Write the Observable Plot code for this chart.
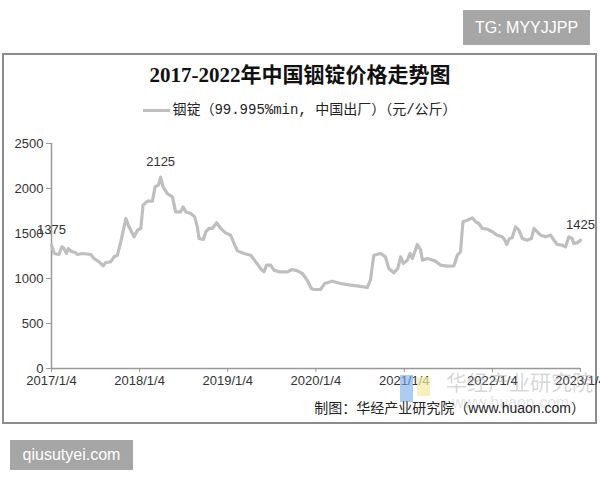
<!DOCTYPE html>
<html><head><meta charset="utf-8">
<script src="https://cdn.jsdelivr.net/npm/d3@7"></script>
<script src="https://cdn.jsdelivr.net/npm/@observablehq/plot@0.6"></script>
<style>
body{margin:0;background:#fff;}
#wrap{position:relative;width:600px;height:480px;overflow:hidden;background:#fff;font-family:"Liberation Sans","Noto Sans CJK SC",sans-serif;}
#frame{position:absolute;left:2px;top:53px;width:591px;height:367px;border:2px solid #8c8c8c;}
#title{position:absolute;left:0;top:61px;width:600px;text-align:center;font-family:"Liberation Serif","Noto Sans CJK SC",serif;font-weight:bold;font-size:21px;line-height:28px;color:#111;}
#legend{position:absolute;left:0;top:100px;width:600px;display:flex;justify-content:center;align-items:center;font-family:"Liberation Mono","Noto Sans CJK SC",monospace;font-size:14px;line-height:20px;color:#222;}
#legend .sw{display:inline-block;width:27px;height:3px;background:#bfbfbf;margin-right:2px;}
#chart{position:absolute;left:0;top:0;}
#caption{position:absolute;right:15px;top:399px;font-size:14px;line-height:18px;color:#222;white-space:nowrap;}
.wm{position:absolute;white-space:nowrap;color:rgba(150,150,150,0.38);}
.badge{position:absolute;background:#a6a6a6;color:#fff;font-size:16px;display:flex;align-items:center;justify-content:center;}
</style></head><body>
<div id="wrap">
  <div id="frame"></div>
  <div id="chart"></div>
  <div id="title"></div>
  <div id="legend"><span class="sw"></span><span id="legtext"></span></div>
  <div class="wm" style="left:400px;top:375px;width:13px;height:27px;background:rgba(120,170,235,0.6);color:transparent"></div>
  <div class="wm" style="left:417px;top:377px;width:13px;height:19px;background:rgba(245,235,160,0.7);color:transparent"></div>
  <div class="wm" id="wm1" style="left:446px;top:371px;font-size:21px;line-height:24px;"></div>
  <div class="wm" id="wm2" style="left:452px;top:394px;font-size:16px;line-height:18px;color:rgba(160,160,160,0.3)"></div>
  <div id="caption"></div>
  <div class="badge" id="b1" style="left:463px;top:10px;width:127px;height:35px;"></div>
  <div class="badge" id="b2" style="left:10px;top:440px;width:123px;height:30px;"></div>
</div>
<script>
const titleText = "2017-2022年中国铟锭价格走势图";
const legendText = "铟锭（99.995%min, 中国出厂）（元/公斤）";
const captionText = "制图：华经产业研究院（www.huaon.com）";
const watermarkName = "华经产业研究院";
const watermarkUrl = "www.huaon.com";
const badgeTop = "TG: MYYJJPP";
const badgeBottom = "qiusutyei.com";

const xTickLabels = ["2017/1/4","2018/1/4","2019/1/4","2020/1/4","2021/1/4","2022/1/4","2023/1/4"];
const yTicks = [0, 500, 1000, 1500, 2000, 2500];

const dates = [
"2017-01-04","2017-01-15","2017-02-04","2017-02-16","2017-02-25","2017-03-07","2017-03-15","2017-03-25","2017-04-12","2017-04-22","2017-05-12","2017-06-16","2017-06-29","2017-07-20","2017-08-06","2017-08-17","2017-09-06","2017-09-20","2017-10-04","2017-10-18","2017-11-08","2017-11-21","2017-12-12","2017-12-26",
"2018-01-09","2018-01-18","2018-02-05","2018-02-26","2018-03-09","2018-03-23","2018-04-01","2018-04-11","2018-04-29","2018-05-20","2018-06-02","2018-06-23","2018-07-03","2018-07-14","2018-08-04","2018-08-20","2018-08-31","2018-09-07","2018-09-25","2018-10-05","2018-10-18","2018-11-01","2018-11-19","2018-12-06","2018-12-26",
"2019-01-16","2019-01-30","2019-02-13","2019-03-12","2019-04-09","2019-04-30","2019-05-20","2019-06-03","2019-06-14","2019-07-01","2019-07-14","2019-08-04","2019-09-08","2019-09-28","2019-10-19","2019-11-09","2019-11-29","2019-12-16","2019-12-27",
"2020-01-23","2020-02-09","2020-03-12","2020-04-15","2020-05-27","2020-06-30","2020-08-04","2020-08-17","2020-08-31","2020-09-28","2020-10-18","2020-11-01","2020-11-22","2020-12-08","2020-12-20","2020-12-31",
"2021-01-17","2021-01-28","2021-02-07","2021-02-27","2021-03-13","2021-03-20","2021-04-10","2021-04-23","2021-05-14","2021-06-04","2021-07-01","2021-07-29","2021-08-12","2021-08-25","2021-09-04","2021-09-22","2021-10-13","2021-10-27","2021-11-09","2021-11-23","2021-12-14",
"2022-01-04","2022-01-24","2022-02-14","2022-02-25","2022-03-04","2022-03-16","2022-03-27","2022-04-10","2022-04-24","2022-05-08","2022-05-28","2022-06-15","2022-06-25","2022-07-09","2022-07-23","2022-08-12","2022-09-02","2022-09-16","2022-09-30","2022-10-20","2022-11-03","2022-11-17","2022-12-01","2022-12-07","2022-12-21",
"2023-01-04"
];
const prices = [
1375,1278,1267,1352,1333,1278,1333,1304,1289,1267,1278,1267,1222,1185,1141,1178,1185,1241,1259,1407,1667,1574,1463,1537,
1556,1815,1859,1859,2019,2037,2125,2019,1944,1907,1741,1741,1796,1741,1722,1685,1574,1444,1433,1519,1556,1556,1619,1556,1507,
1481,1389,1307,1278,1259,1185,1111,1074,1148,1148,1093,1074,1074,1100,1085,1056,981,889,878,
878,944,970,944,926,915,900,981,1259,1278,1241,1111,1063,1111,1241,1167,
1204,1278,1222,1378,1315,1204,1222,1211,1193,1148,1137,1141,1259,1296,1630,1648,1674,1630,1611,1556,1548,
1519,1481,1463,1426,1378,1444,1452,1574,1537,1444,1426,1444,1556,1519,1481,1463,1481,1426,1378,1370,1352,1463,1444,1389,1396,
1425
];
const labelDates = ["2017-01-04","2018-04-01","2023-01-04"];
const labelValues = [1375, 2125, 1425];

document.getElementById("title").textContent = titleText;
document.getElementById("legtext").textContent = legendText;
document.getElementById("caption").textContent = captionText;
document.getElementById("wm1").textContent = watermarkName;
document.getElementById("wm2").textContent = watermarkUrl;
document.getElementById("b1").textContent = badgeTop;
document.getElementById("b2").textContent = badgeBottom;

const parse = d3.utcParse("%Y-%m-%d");
const data = dates.map((d, i) => ({date: parse(d), price: prices[i]}));
const labels = labelDates.map((d, i) => ({date: parse(d), value: labelValues[i]}));
const tickDates = xTickLabels.map(s => { const [y, m, d] = s.split("/").map(Number); return new Date(Date.UTC(y, m - 1, d)); });
const fmtX = d => xTickLabels[tickDates.findIndex(t => +t === +d)];

const chart = Plot.plot({
  width: 600, height: 480,
  marginLeft: 51, marginRight: 20, marginTop: 143, marginBottom: 112,
  style: {fontFamily: "Liberation Sans, Arial, sans-serif", fontSize: "13px", color: "#333", background: "transparent", overflow: "visible"},
  x: {type: "utc", domain: [tickDates[0], tickDates[tickDates.length - 1]]},
  y: {domain: [0, 2500]},
  marks: [
    Plot.axisY(yTicks, {tickSize: 5, tickPadding: 3, tickFormat: d => String(d), stroke: "#999", fill: "#333", label: null, fontSize: 13}),
    Plot.axisX(tickDates, {tickSize: 4, tickPadding: 3, tickFormat: fmtX, stroke: "#999", fill: "#333", label: null, fontSize: 13}),
    Plot.ruleX([tickDates[0]], {stroke: "#999", strokeWidth: 1.5}),
    Plot.ruleY([0], {stroke: "#999", strokeWidth: 1.5}),
    Plot.line(data, {x: "date", y: "price", stroke: "#bfbfbf", strokeWidth: 3.2}),
    Plot.text(labels, {x: "date", y: "value", text: d => String(d.value), dy: -15, fill: "#333", fontSize: 13})
  ]
});
document.getElementById("chart").appendChild(chart);
</script>
</body></html>
